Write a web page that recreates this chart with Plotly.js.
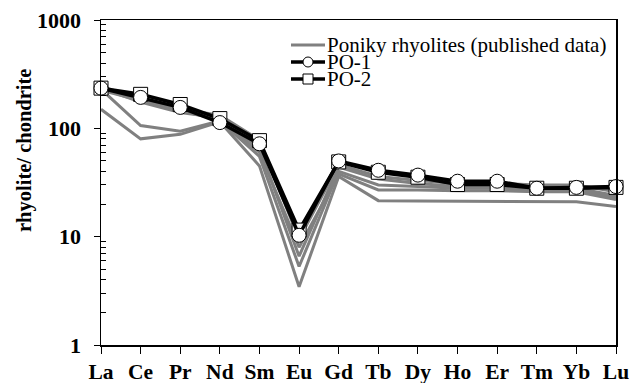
<!DOCTYPE html>
<html>
<head>
<meta charset="utf-8">
<script src="https://cdn.plot.ly/plotly-3.0.1.min.js"></script>
<style>html,body{margin:0;padding:0;background:#fff;}#chart{width:639px;height:383px;}</style>
</head>
<body>
<div id="chart"></div>
<script>
// Rare earth elements (categories)
const elements = ["La","Ce","Pr","Nd","Sm","Eu","Gd","Tb","Dy","Ho","Er","Tm","Yb","Lu"];

// Poniky rhyolites (published data), chondrite-normalised
const poniky1 = [245, 185, 150, 132, 78, 9.5, 46, 36, 33, 31, 31, 30, 30, 26];
const poniky2 = [235, 175, 140, 125, 65, 6.6, 44, 34, 31, 29, 29, 28.5, 28, 24];
const poniky3 = [230, 106, 94, 117, 55, 5.3, 40, 30, 29, 28, 28, 27.5, 27, 23];
const poniky4 = [150, 80, 88, 115, 45, 3.45, 36, 21.5, 21.3, 21.2, 21.2, 21.1, 21, 19];
const poniky5 = [225, 180, 145, 120, 60, 8, 38, 27, 27, 26.5, 26.5, 26, 26, 22];
const ponikySeries = [poniky1, poniky2, poniky3, poniky4, poniky5];

// Samples
const po1 = [235, 193, 156, 113, 72, 10.3, 50, 41, 37, 32.5, 32.5, 28, 28.5, 29];
const po2 = [235, 206, 166, 123, 77, 11.5, 49, 39.3, 35.4, 30.3, 30.3, 28, 28, 28.5];

// Axis ticks
const yTickVals = [1, 10, 100, 1000];
const yTickText = ["1", "10", "100", "1000"];
const yMinorVals = [2,3,4,5,6,7,8,9,20,30,40,50,60,70,80,90,200,300,400,500,600,700,800,900];

// Legend labels
const legendLabels = ["Poniky rhyolites (published data)", "PO-1", "PO-2"];

const SERIF = "Liberation Serif, Times New Roman, serif";
const GRAY = "#808080";

const traces = [];
ponikySeries.forEach(function(s){
  traces.push({x: elements, y: s, type: "scatter", mode: "lines",
    line: {color: GRAY, width: 3}, cliponaxis: false, showlegend: false, hoverinfo: "skip"});
});
traces.push({x: elements, y: po2, type: "scatter", mode: "lines+markers", name: legendLabels[2],
  line: {color: "#000", width: 3.5}, cliponaxis: false, showlegend: false,
  marker: {symbol: "square", size: 14, color: "rgba(255,255,255,0.95)", line: {color: "#000", width: 1}}});
traces.push({x: elements, y: po1, type: "scatter", mode: "lines+markers", name: legendLabels[1],
  line: {color: "#000", width: 3.5}, cliponaxis: false, showlegend: false,
  marker: {symbol: "circle", size: 14, color: "#fff", line: {color: "#000", width: 1}}});

// plot area: x 101..616, y 20..345
const L = 101, T = 20, W = 515, H = 325;
function px(x){ return (x - L) / W; }
function py(y){ return (T + H - y) / H; }

const rows = [45, 62, 79];
const lineX0 = px(291), lineX1 = px(325), symX = px(308);

const shapes = [
  {type: "line", xref: "paper", yref: "paper", x0: lineX0, x1: lineX1, y0: py(rows[0]), y1: py(rows[0]), line: {color: GRAY, width: 3}},
  {type: "line", xref: "paper", yref: "paper", x0: lineX0, x1: lineX1, y0: py(rows[1]), y1: py(rows[1]), line: {color: "#000", width: 3.5}},
  {type: "circle", xref: "paper", yref: "paper", xsizemode: "pixel", ysizemode: "pixel", xanchor: symX, yanchor: py(rows[1]),
    x0: -5, x1: 5, y0: -5, y1: 5, fillcolor: "#fff", line: {color: "#000", width: 1}},
  {type: "line", xref: "paper", yref: "paper", x0: lineX0, x1: lineX1, y0: py(rows[2]), y1: py(rows[2]), line: {color: "#000", width: 3.5}},
  {type: "rect", xref: "paper", yref: "paper", xsizemode: "pixel", ysizemode: "pixel", xanchor: symX, yanchor: py(rows[2]),
    x0: -5, x1: 5, y0: -5, y1: 5, fillcolor: "#fff", line: {color: "#000", width: 1}}
];

const annotations = legendLabels.map(function(t, i){
  return {text: t, xref: "paper", yref: "paper", x: px(325), y: py(rows[i]), xanchor: "left", yanchor: "middle",
    showarrow: false, font: {family: SERIF, size: 21, color: "#000"}};
});
annotations.push({text: "rhyolite/ chondrite", xref: "paper", yref: "paper", x: px(24), y: py(151),
  xanchor: "center", yanchor: "middle", textangle: -90, showarrow: false,
  font: {family: SERIF, size: 20.5, color: "#000", weight: "bold"}});

const layout = {
  width: 639, height: 383,
  margin: {l: L, r: 639 - L - W, t: T, b: 383 - T - H, pad: 0},
  paper_bgcolor: "#fff", plot_bgcolor: "#fff",
  showlegend: false,
  font: {family: SERIF, color: "#000"},
  xaxis: {type: "category", range: [0, 13], showgrid: false, zeroline: false,
    showline: true, linecolor: "#000", linewidth: 1.5, mirror: true,
    ticks: "outside", ticklen: 7, tickwidth: 1, tickcolor: "#000",
    tickfont: {family: SERIF, size: 21.5, weight: "bold", color: "#000"}},
  xaxis2: {type: "category", overlaying: "x", anchor: "y", side: "bottom", range: [0, 13], matches: "x",
    showgrid: false, zeroline: false, showline: false, ticks: "inside", ticklen: 6, tickwidth: 1,
    tickcolor: "#000", showticklabels: false},
  yaxis: {type: "log", range: [0, 3], showgrid: false, zeroline: false,
    showline: true, linecolor: "#000", linewidth: 1.5, mirror: true,
    tickmode: "array", tickvals: yTickVals, ticktext: yTickText,
    ticks: "outside", ticklen: 6, tickwidth: 1, tickcolor: "#000", ticklabelstandoff: 8,
    minor: {tickmode: "array", tickvals: yMinorVals, ticks: "inside", ticklen: 5, tickwidth: 1, tickcolor: "#000"},
    tickfont: {family: SERIF, size: 22, weight: "bold", color: "#000"}},
  yaxis2: {type: "log", range: [0, 3], overlaying: "y", anchor: "x", side: "left",
    showgrid: false, zeroline: false, showline: false,
    tickmode: "array", tickvals: yTickVals, ticks: "inside", ticklen: 6, tickwidth: 1, tickcolor: "#000",
    showticklabels: false},
  shapes: shapes,
  annotations: annotations
};

Plotly.newPlot("chart", traces, layout, {displayModeBar: false, staticPlot: true});
</script>
</body>
</html>
